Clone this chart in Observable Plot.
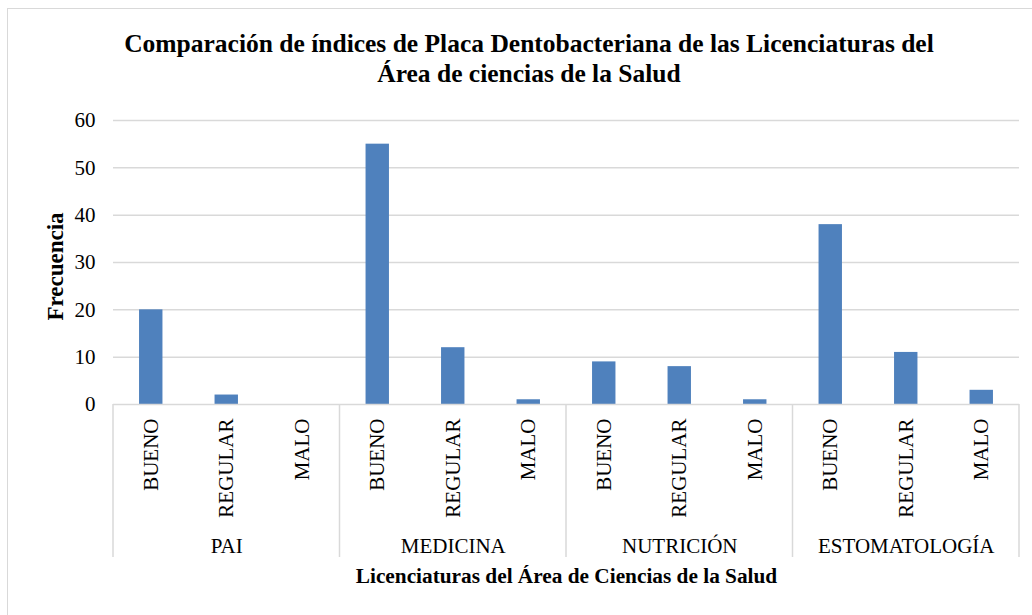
<!DOCTYPE html>
<html>
<head>
<meta charset="utf-8">
<script src="https://cdn.jsdelivr.net/npm/d3@7"></script>
<script src="https://cdn.jsdelivr.net/npm/@observablehq/plot@0.6"></script>
<style>
  html, body { margin: 0; padding: 0; background: #fff; }
  body { width: 1032px; height: 615px; position: relative; overflow: hidden; }
  #border { position: absolute; left: 7px; top: 8px; width: 1100px; height: 700px; border: 1px solid #d9d9d9; }
  #title { position: absolute; left: 0; top: 29px; width: 1058px; text-align: center;
           font-family: "Liberation Serif", "Times New Roman", serif; font-weight: bold; font-size: 25.5px; line-height: 30px; color: #000; }
  #chart { position: absolute; left: 0; top: 100px; }
</style>
</head>
<body>
<div id="border"></div>
<div id="title">Comparación de índices de Placa Dentobacteriana de las Licenciaturas del<br>Área de ciencias de la Salud</div>
<div id="chart"></div>
<script>
// ---- data ----
const groups = ["PAI", "MEDICINA", "NUTRICIÓN", "ESTOMATOLOGÍA"];
const levels = ["BUENO", "REGULAR", "MALO"];
const paiValues = [20, 2, 0];
const medicinaValues = [55, 12, 1];
const nutricionValues = [9, 8, 1];
const estomatologiaValues = [38, 11, 3];
const yTicks = [0, 10, 20, 30, 40, 50, 60];
const yLabel = "Frecuencia";
const xLabel = "Licenciaturas del Área de Ciencias de la Salud";

const seriesByGroup = [paiValues, medicinaValues, nutricionValues, estomatologiaValues];
const rows = [];
groups.forEach((g, gi) => levels.forEach((l, li) => {
  rows.push({group: g, level: l, key: g + "|" + l, value: seriesByGroup[gi][li]});
}));
const keys = rows.map(d => d.key);
const groupRows = groups.map(g => ({group: g, mid: g + "|" + levels[1], first: g + "|" + levels[0], last: g + "|" + levels[levels.length - 1]}));

const gridColor = "#d9d9d9";

function separators(index, scales, values, dims) {
  const x = scales.x;
  const bw = x.bandwidth ? x.bandwidth() : 0;
  const step = x(keys[1]) - x(keys[0]);
  const yTop = dims.height - dims.marginBottom;
  const yBot = yTop + 153;
  const xs = [];
  groupRows.forEach((g, i) => {
    xs.push(x(g.first) + bw / 2 - step / 2);
    if (i === groupRows.length - 1) xs.push(x(g.last) + bw / 2 + step / 2);
  });
  const gEl = d3.create("svg:g").attr("stroke", gridColor).attr("stroke-width", 1.5);
  xs.forEach(v => gEl.append("line").attr("x1", v).attr("x2", v).attr("y1", yTop).attr("y2", yBot));
  return gEl.node();
}

const chart = Plot.plot({
  width: 1032,
  height: 515,
  marginTop: 20,
  marginBottom: 211,
  marginLeft: 113,
  marginRight: 13,
  style: {fontFamily: "'Liberation Serif', 'Times New Roman', serif", fontSize: "21px", color: "#000", background: "transparent", overflow: "visible"},
  x: {domain: keys, paddingInner: 0.69, paddingOuter: 0.345, round: false, axis: null},
  y: {domain: [0, 60], ticks: yTicks, label: null},
  marks: [
    Plot.gridY(yTicks.filter(t => t > 0), {stroke: gridColor, strokeOpacity: 1, strokeWidth: 1.5}),
    Plot.axisY({ticks: yTicks, tickSize: 0, tickPadding: 18, label: null, fontSize: 21}),
    Plot.barY(rows, {x: "key", y: "value", fill: "#4f81bd"}),
    Plot.ruleY([0], {stroke: gridColor, strokeWidth: 1.5}),
    separators,
    Plot.text(rows, {x: "key", text: "level", frameAnchor: "bottom", rotate: -90, textAnchor: "end", lineAnchor: "middle", dy: 14, fontSize: 21}),
    Plot.text(groupRows, {x: "mid", text: "group", frameAnchor: "bottom", lineAnchor: "middle", dy: 142, fontSize: 21}),
    Plot.text([xLabel], {frameAnchor: "bottom", textAnchor: "middle", lineAnchor: "middle", dy: 172, fontSize: 21.3, fontWeight: "bold"}),
    Plot.text([yLabel], {frameAnchor: "left", rotate: -90, textAnchor: "middle", lineAnchor: "middle", dx: -58, dy: 4, fontSize: 23, fontWeight: "bold"})
  ]
});
document.getElementById("chart").appendChild(chart);
</script>
</body>
</html>
